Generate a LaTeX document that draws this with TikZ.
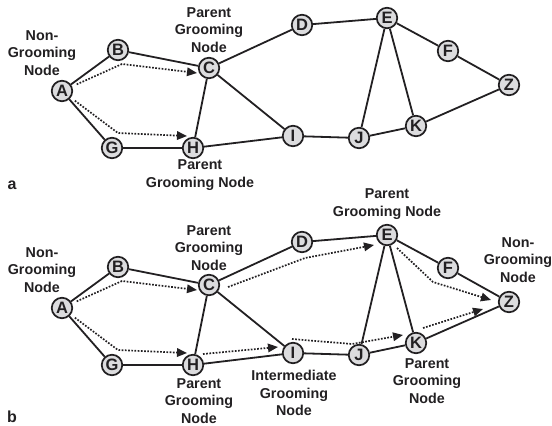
\documentclass[tikz,border=0pt]{standalone}
\usepackage{fontspec}
\setmainfont{Liberation Sans}
\usetikzlibrary{arrows.meta}
\definecolor{ink}{HTML}{222022}
\definecolor{nodefill}{HTML}{DCDCDE}
\tikzset{
  vtx/.style={circle, draw=ink, fill=nodefill, line width=1.7pt, minimum size=20.5pt,
    inner sep=0pt, text=ink, font=\fontsize{16.5}{16.5}\selectfont\bfseries},
  link/.style={draw=ink, line width=1.8pt},
  route/.style={draw=ink, line width=1.7pt, dash pattern=on 1.7pt off 1.5pt,
    -{Triangle[length=10pt,width=8.5pt]}},
  lbl/.style={align=center, text=ink, inner sep=0pt,
    font=\fontsize{14.3}{17.3}\selectfont\bfseries},
  tag/.style={text=ink, inner sep=0pt, font=\fontsize{16}{16}\selectfont\bfseries}
}
\begin{document}
\begin{tikzpicture}[x=1pt,y=-1pt]
\useasboundingbox (0,0) rectangle (552,426);

% the same network in both panels, panel b shifted down
\foreach \p/\dy in {a/0,b/217}{
  \node[vtx] (\p A) at (62,91+\dy) {A};
  \node[vtx] (\p B) at (118,50+\dy) {B};
  \node[vtx] (\p C) at (209,68+\dy) {C};
  \node[vtx] (\p G) at (112,148+\dy) {G};
  \node[vtx] (\p H) at (193,148+\dy) {H};
  \node[vtx] (\p D) at (302,25+\dy) {D};
  \node[vtx] (\p E) at (387,18+\dy) {E};
  \node[vtx] (\p F) at (448,51+\dy) {F};
  \node[vtx] (\p Z) at (509,85+\dy) {Z};
  \node[vtx] (\p K) at (416,126+\dy) {K};
  \node[vtx] (\p J) at (359,138+\dy) {J};
  \node[vtx] (\p I) at (293,136+\dy) {I};
  \foreach \u/\v in {A/B,A/G,B/C,G/H,C/H,C/D,C/I,H/I,D/E,E/F,E/J,E/K,F/Z,I/J,J/K,K/Z}
    \draw[link] (\p\u) -- (\p\v);
  % routes from A towards the parent grooming nodes
  \coordinate (\p up)  at (122,64+\dy);
  \coordinate (\p upT) at (197,73+\dy);
  \coordinate (\p lo)  at (118,133+\dy);
  \coordinate (\p loT) at (187,136+\dy);
  \draw[route, shorten <=5pt] (\p A) -- (\p up) -- (\p upT);
  \draw[route, shorten <=5pt] (\p A) -- (\p lo) -- (\p loT);
}

% further routes of panel b
\coordinate (ceS) at (228,287);
\coordinate (ceM) at (305,258);
\coordinate (ceT) at (374,245);
\draw[route] (ceS) -- (ceM) -- (ceT);
\coordinate (hiS) at (203,354);
\coordinate (hiT) at (278,347);
\draw[route] (hiS) -- (hiT);
\coordinate (ikS) at (292,339);
\coordinate (ikM) at (352,344);
\coordinate (ikT) at (403,335);
\draw[route] (ikS) -- (ikM) -- (ikT);
\coordinate (ezS) at (397,248);
\coordinate (ezM) at (433,282);
\coordinate (ezT) at (491,300);
\draw[route] (ezS) -- (ezM) -- (ezT);
\coordinate (kzS) at (423,328);
\coordinate (kzT) at (483,309);
\draw[route] (kzS) -- (kzT);

% labels, panel a
\node[lbl] (la1) at (42,53) {Non-\\Grooming\\Node};
\node[lbl] (la2) at (209,30) {Parent\\Grooming\\Node};
\node[lbl] (la3) at (200,175) {Parent\\Grooming Node};
\node[tag] (ta) at (12,185) {a};

% labels, panel b
\node[lbl] (lb1) at (42,270) {Non-\\Grooming\\Node};
\node[lbl] (lb2) at (209,248) {Parent\\Grooming\\Node};
\node[lbl] (lb3) at (199,401) {Parent\\Grooming\\Node};
\node[lbl] (lb4) at (294,393) {Intermediate\\Grooming\\Node};
\node[lbl] (lb5) at (387,204) {Parent\\Grooming Node};
\node[lbl] (lb6) at (518,260) {Non-\\Grooming\\Node};
\node[lbl] (lb7) at (427,381) {Parent\\Grooming\\Node};
\node[tag] (tb) at (12,417) {b};
\end{tikzpicture}
\end{document}
